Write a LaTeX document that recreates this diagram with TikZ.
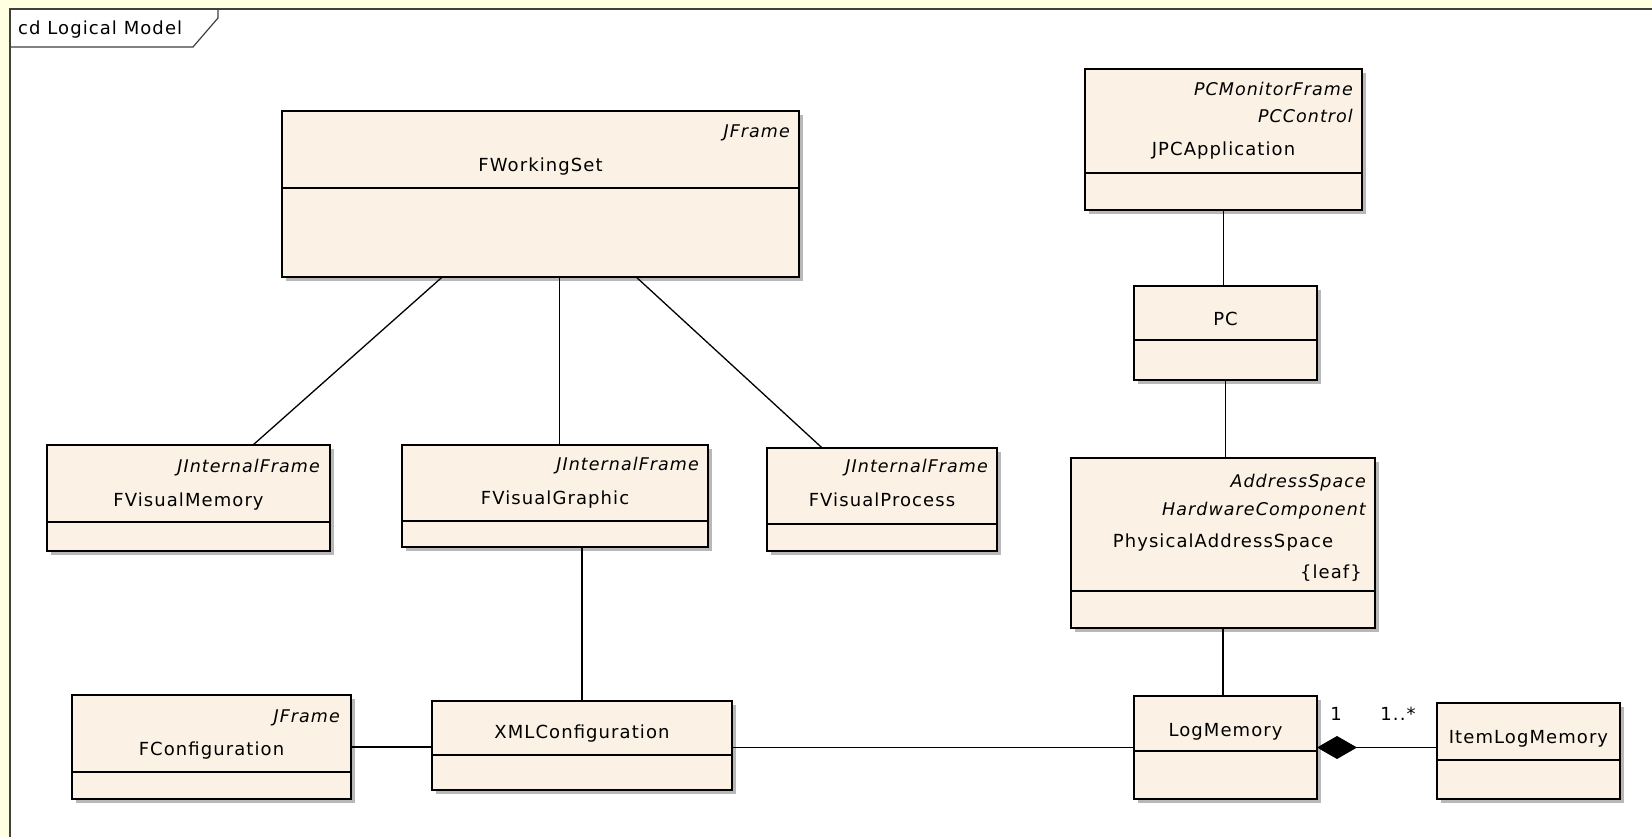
\documentclass[tikz,border=0pt]{standalone}
\usepackage{fontspec}
\setmainfont{DejaVu Sans}
\newfontfamily\umlfont[LetterSpace=6]{DejaVu Sans}
\newcommand\umlsz{\umlfont\fontsize{18}{21}\selectfont}
\newcommand\umlit{\umlfont\itshape\fontsize{17.5}{21}\selectfont}
\usetikzlibrary{shadows,arrows.meta,calc}
\definecolor{clsfill}{RGB}{251,241,229}
\definecolor{bgyellow}{RGB}{255,255,225}
\definecolor{framegray}{RGB}{64,64,64}
\tikzset{
  cls/.style={draw=black, line width=1.4pt, fill=clsfill, inner sep=0pt, outer sep=0pt, rectangle,
    drop shadow={shadow xshift=4pt,shadow yshift=-4pt,fill=black!28,opacity=1}},
  divider/.style={draw=black, line width=1.4pt},
  clsname/.style={font=\umlsz, inner sep=0pt, anchor=base},
  stereo/.style={font=\umlit, inner sep=0pt, anchor=base east},
  prop/.style={font=\umlsz, inner sep=0pt, anchor=base east},
  mult/.style={font=\umlsz, inner sep=0pt, anchor=base},
  titletext/.style={font=\umlsz, inner sep=0pt, anchor=base west},
  assoc/.style={draw=black, line width=1.3pt},
  framebox/.style={draw=framegray, line width=2pt},
  tabline/.style={draw=framegray, line width=1.2pt},
}
\newcommand\umlclass[6]{%
  \node[cls, anchor=north west, minimum width={#4-#2}, minimum height={#5-#3}] (#1) at (#2,#3) {};
  \draw[divider] (#1.west |- 0,#6) -- (#1.east |- 0,#6);
}
\begin{document}
\begin{tikzpicture}[x=1pt,y=-1pt]
\useasboundingbox (0,0) rectangle (1652,837);
\fill[bgyellow] (0,0) rectangle (1652,837);
\fill[white] (9.5,9.5) rectangle (1652,837);
\draw[framebox] (9.5,837) -- (9.5,9.5) -- (1652,9.5);
\draw[tabline] (9.5,47) -- (193,47) -- (218,18) -- (218,9.5);
\node[titletext] (title) at (18,35) {cd Logical Model};

% classes
\umlclass{fws}{282}{111}{799}{277}{188}
\node[stereo] (fwsS) at (790,138) {JFrame};
\node[clsname] (fwsN) at (540.5,172) {FWorkingSet};

\umlclass{jpc}{1085}{69}{1362}{210}{173}
\node[stereo] (jpcS1) at (1353,96) {PCMonitorFrame};
\node[stereo] (jpcS2) at (1353,123) {PCControl};
\node[clsname] (jpcN) at (1223.5,156) {JPCApplication};

\umlclass{pc}{1134}{286}{1317}{380}{340}
\node[clsname] (pcN) at (1225.5,325) {PC};

\umlclass{pas}{1071}{458}{1375}{628}{591}
\node[stereo] (pasS1) at (1366,487) {AddressSpace};
\node[stereo] (pasS2) at (1366,515) {HardwareComponent};
\node[clsname] (pasN) at (1223,547) {PhysicalAddressSpace};
\node[prop] (pasP) at (1362,578) {\{leaf\}};

\umlclass{fvm}{47}{445}{330}{551}{522}
\node[stereo] (fvmS) at (320,472) {JInternalFrame};
\node[clsname] (fvmN) at (188.5,506) {FVisualMemory};

\umlclass{fvg}{402}{445}{708}{547}{521}
\node[stereo] (fvgS) at (699,470) {JInternalFrame};
\node[clsname] (fvgN) at (555,504) {FVisualGraphic};

\umlclass{fvp}{767}{448}{997}{551}{524}
\node[stereo] (fvpS) at (988,472) {JInternalFrame};
\node[clsname] (fvpN) at (882,506) {FVisualProcess};

\umlclass{fcf}{72}{695}{351}{799}{772}
\node[stereo] (fcfS) at (340,722) {JFrame};
\node[clsname] (fcfN) at (211.5,755) {FConfiguration};

\umlclass{xml}{432}{701}{732}{790}{755}
\node[clsname] (xmlN) at (582,738) {XMLConfiguration};

\umlclass{log}{1134}{696}{1317}{799}{751}
\node[clsname] (logN) at (1225.5,736) {LogMemory};

\umlclass{item}{1437}{703}{1620}{799}{760}
\node[clsname] (itemN) at (1528.5,743) {ItemLogMemory};

% connectors
\coordinate (g1) at ($(fvg.north)+(4.5,0)$);
\draw[assoc] ($(fws.south west)!0.31!(fws.south east)$) -- ($(fvm.north west)!0.728!(fvm.north east)$);
\draw[assoc] (g1) -- (g1 |- fws.south);
\draw[assoc] ($(fws.south west)!0.685!(fws.south east)$) -- ($(fvp.north west)!0.24!(fvp.north east)$);
\draw[assoc] (xml.north) -- (xml.north |- fvg.south);
\draw[assoc] (jpc.south) -- (jpc.south |- pc.north);
\draw[assoc] (pc.south) -- (pc.south |- pas.north);
\draw[assoc] (pas.south) -- (pas.south |- log.north);
\draw[assoc] (fcf.east) -- (fcf.east -| xml.west);
\draw[assoc] (log.west -| xml.east) -- (log.west);
\draw[assoc, {Diamond[length=40pt,width=23pt,fill=black]}-] (log.east) -- (log.east -| item.west);
\node[mult] (m1) at (1336,720) {1};
\node[mult] (m2) at (1398,720) {1..*};
\end{tikzpicture}
\end{document}
